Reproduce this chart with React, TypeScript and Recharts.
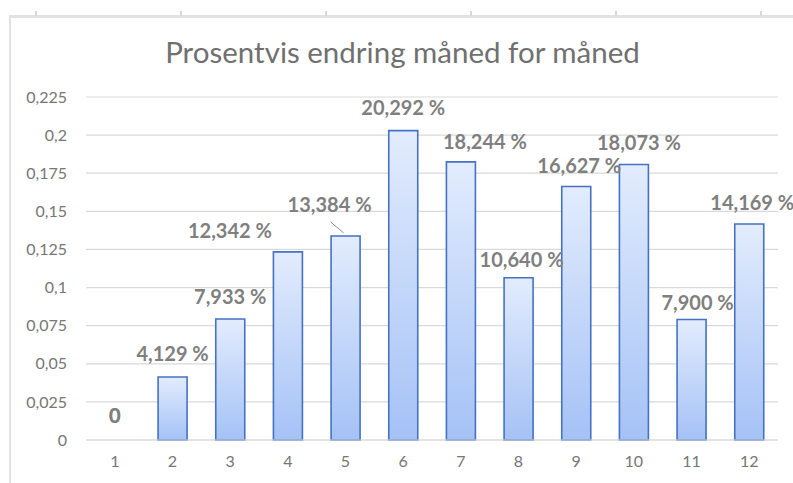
import React from 'react';
import { BarChart, Bar, XAxis, YAxis, CartesianGrid, LabelList, Rectangle } from 'recharts';

const months = ['1', '2', '3', '4', '5', '6', '7', '8', '9', '10', '11', '12'];
const changes = [0, 0.04129, 0.07933, 0.12342, 0.13384, 0.20292, 0.18244, 0.1064, 0.16627, 0.18073, 0.079, 0.14169];
const yTicks = [0, 0.025, 0.05, 0.075, 0.1, 0.125, 0.15, 0.175, 0.2, 0.225];

const data = months.map((m, i) => ({ month: m, value: changes[i] }));

// manual label nudges (Excel-style dragged labels), [dx, dy]
const labelNudge: [number, number][] = [
  [0, -3], [0, -2], [0, -1], [-58, 0], [-16, -10], [0, -2],
  [24, 1], [3, 3], [3, 0], [5, 0], [6, 4], [3, 0],
];

const FONT = 'Lato, "Noto Sans", sans-serif';
const LABEL_STYLE = { fill: '#7f7f7f', fontFamily: FONT, fontWeight: 700, fontSize: 20 };

const fmtTick = (v: number) => String(v).replace('.', ',');
const fmtLabel = (v: number) => (v === 0 ? '0' : (v * 100).toFixed(3).replace('.', ',') + ' %');

const BarLabel = (props: any) => {
  const { x, y, width, value } = props;
  // zero bars are skipped by LabelList, so look the index up by value
  const idx = changes.indexOf(value);
  const cx = x + width / 2;
  const [dx, dy] = labelNudge[idx] || [0, 0];
  const lx = cx + dx;
  const ly = y - 22 + dy;
  const showLeader = Math.abs(dx) > 10 && Math.abs(dx) < 40 && dy < -5;
  return (
    <g>
      {showLeader && (
        <line x1={lx + 1} y1={ly + 18} x2={cx - 2} y2={y - 3} stroke="#8c8c8c" strokeWidth={1} />
      )}
      <text x={lx} y={ly} textAnchor="middle" dominantBaseline="central" {...LABEL_STYLE}>
        {fmtLabel(value)}
      </text>
    </g>
  );
};

// draws the bar, plus the "0" label for the empty first month
const BarShape = (props: any) => {
  const { x, y, width, height, index } = props;
  if (!height) {
    const [dx, dy] = labelNudge[index] || [0, 0];
    return (
      <text x={x + width / 2 + dx} y={y - 22 + dy} textAnchor="middle" dominantBaseline="central" {...LABEL_STYLE}>
        0
      </text>
    );
  }
  return <Rectangle {...props} />;
};

export default function App() {
  return (
    <div style={{ position: 'relative', width: 793, height: 483, background: '#fff', overflow: 'hidden' }}>
      <style>{`body{margin:0}`}</style>
      {/* sheet frame */}
      <div style={{ position: 'absolute', left: 9, top: 15, right: 0, height: 3, background: '#e2e2e2' }} />
      <div style={{ position: 'absolute', left: 9, top: 15, width: 2, bottom: 0, background: '#e2e2e2' }} />
      {[35, 180, 325, 470, 615, 760].map((tx) => (
        <div key={`tick-${tx}`} style={{ position: 'absolute', left: tx, top: 11, width: 2, height: 5, background: '#d8d8d8' }} />
      ))}
      <div
        style={{
          position: 'absolute',
          left: 0,
          width: 793,
          top: 33,
          textAlign: 'center',
          fontFamily: FONT,
          fontSize: 29.5,
          color: '#707070',
          lineHeight: '38px',
          paddingLeft: 12,
          boxSizing: 'border-box',
        }}
      >
        Prosentvis endring måned for måned
      </div>
      <div style={{ position: 'absolute', left: 0, top: 0 }}>
        <BarChart
          width={793}
          height={483}
          data={data}
          margin={{ top: 97, right: 15, left: 0, bottom: 12 }}
          barCategoryGap="25%"
        >
          <defs>
            <linearGradient id="barFill" x1="0" y1="0" x2="0" y2="1">
              <stop offset="0%" stopColor="#e2ecfd" />
              <stop offset="100%" stopColor="#a5c2f6" />
            </linearGradient>
          </defs>
          <CartesianGrid vertical={false} stroke="#d9d9d9" strokeWidth={1.2} />
          <XAxis
            dataKey="month"
            axisLine={{ stroke: '#d9d9d9', strokeWidth: 1.2 }}
            tickLine={false}
            tickMargin={10}
            height={31}
            tick={{ fontSize: 16, fill: '#767676', fontFamily: FONT }}
          />
          <YAxis
            domain={[0, 0.225]}
            ticks={yTicks}
            tickFormatter={fmtTick}
            axisLine={false}
            tickLine={false}
            width={86}
            tickMargin={13}
            tick={{ fontSize: 16, fill: '#767676', fontFamily: FONT }}
          />
          <Bar
            dataKey="value"
            fill="url(#barFill)"
            stroke="#4472c4"
            strokeWidth={1.6}
            shape={<BarShape />}
            isAnimationActive={false}
          >
            <LabelList dataKey="value" content={<BarLabel />} />
          </Bar>
        </BarChart>
      </div>
    </div>
  );
}
